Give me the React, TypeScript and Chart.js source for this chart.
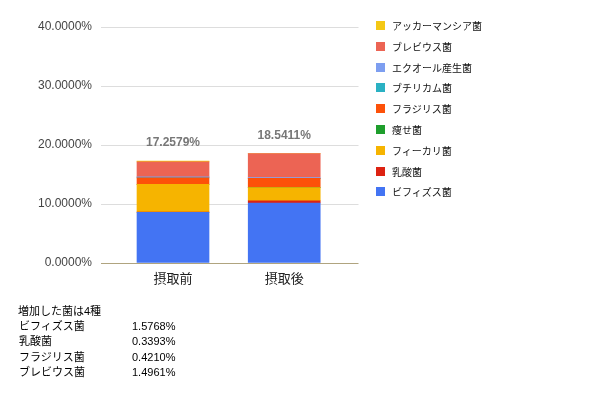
import React, { useEffect, useRef } from "react";
import { Chart, registerables } from "chart.js";

Chart.register(...registerables);

const categories = ["摂取前", "摂取後"];
const seriesNames = [
  "ビフィズス菌",
  "乳酸菌",
  "フィーカリ菌",
  "痩せ菌",
  "フラジリス菌",
  "ブチリカム菌",
  "エクオール産生菌",
  "ブレビウス菌",
  "アッカーマンシア菌",
];
const seriesColors = [
  "#4374f3",
  "#dd2212",
  "#f6b400",
  "#1e9e2c",
  "#fd5109",
  "#2ab1c3",
  "#7d9ef0",
  "#ec6454",
  "#f4c815",
];
const bifidus = [8.6, 10.1768];
const lactic = [0.03, 0.3693];
const faecali = [4.7, 2.2579];
const yase = [0.01, 0.01];
const fragilis = [1.1, 1.521];
const butyricum = [0.01, 0.01];
const equol = [0.15, 0.15];
const brevis = [2.55, 4.0461];
const akkermansia = [0.1079, 0.0];
const seriesValues = [bifidus, lactic, faecali, yase, fragilis, butyricum, equol, brevis, akkermansia];

const yTicks = [0, 10, 20, 30, 40];

const noteTitle = "増加した菌は4種";
const noteNames = ["ビフィズス菌", "乳酸菌", "フラジリス菌", "ブレビウス菌"];
const noteValues = ["1.5768%", "0.3393%", "0.4210%", "1.4961%"];

const FONT = '"Liberation Sans", "Noto Sans CJK JP", sans-serif';

export default function App() {
  const ref = useRef<HTMLCanvasElement>(null);

  useEffect(() => {
    document.body.style.margin = "0";
    const totalsPlugin = {
      id: "totals",
      afterDatasetsDraw(chart: any) {
        const ctx = chart.ctx;
        const xs = chart.scales.x;
        const ys = chart.scales.y;
        ctx.save();
        ctx.font = `bold 12px ${FONT}`;
        ctx.fillStyle = "#777777";
        ctx.textAlign = "center";
        ctx.textBaseline = "middle";
        categories.forEach((_, i) => {
          let sum = 0;
          seriesValues.forEach((s) => (sum += s[i]));
          const x = xs.getPixelForValue(i);
          const y = ys.getPixelForValue(sum);
          ctx.fillText(sum.toFixed(4) + "%", x, y - 18);
        });
        ctx.restore();
      },
    };
    const chart = new Chart(ref.current!, {
      type: "bar",
      data: {
        datasets: seriesNames.map((name, k) => ({
          label: name,
          data: seriesValues[k].map((v, i) => ({ x: i, y: v })),
          backgroundColor: seriesColors[k],
          borderWidth: 0,
          barThickness: 72,
        })),
      },
      options: {
        animation: false,
        responsive: false,
        maintainAspectRatio: false,
        layout: { padding: { top: 27, right: 241.5, left: 0, bottom: 0 } },
        plugins: { legend: { display: false }, tooltip: { enabled: false } },
        scales: {
          x: {
            type: "linear",
            stacked: true,
            offset: false,
            min: -0.6475,
            max: 1.668,
            bounds: "ticks",
            grid: { display: false, offset: false },
            border: { display: false },
            afterBuildTicks: (axis: any) => {
              axis.ticks = categories.map((_, i) => ({ value: i }));
            },
            afterDataLimits: (axis: any) => {
              axis.min = -0.6475;
              axis.max = 1.668;
            },
            afterFit: (scale: any) => {
              scale.height = 130;
            },
            ticks: {
              padding: 1,
              color: "#222222",
              font: { size: 13, family: FONT },
              callback: (v: any) => categories[v] ?? "",
              maxRotation: 0,
              autoSkip: false,
            },
          },
          y: {
            stacked: true,
            min: 0,
            max: 40,
            afterBuildTicks: (axis: any) => {
              axis.ticks = yTicks.map((v) => ({ value: v }));
            },
            afterFit: (scale: any) => {
              scale.width = 101;
            },
            grid: {
              drawTicks: false,
              color: (c: any) => (c.tick && c.tick.value === 0 ? "#b0a47f" : "#dddddd"),
              lineWidth: 1,
            },
            border: { display: false },
            ticks: {
              padding: 9,
              color: "#444444",
              font: { size: 12, family: FONT },
              callback: (v: any) => Number(v).toFixed(4) + "%",
            },
          },
        },
      },
      plugins: [totalsPlugin],
    });
    return () => chart.destroy();
  }, []);

  const legendItems = seriesNames.map((n, k) => ({ n, c: seriesColors[k] })).reverse();

  return (
    <div style={{ position: "fixed", left: 0, top: 0, width: 600, height: 393, background: "#fff", fontFamily: FONT }}>
      <canvas ref={ref} width={600} height={393} style={{ position: "absolute", left: 0, top: 0, width: 600, height: 393 }} />
      {legendItems.map((it, i) => (
        <div
          key={it.n}
          style={{
            position: "absolute",
            left: 376,
            top: 25.5 + i * 20.8 - 8,
            height: 16,
            display: "flex",
            alignItems: "center",
            fontSize: 10,
            color: "#111",
            whiteSpace: "nowrap",
          }}
        >
          <span style={{ display: "inline-block", width: 9, height: 9, background: it.c, marginRight: 7 }} />
          <span>{it.n}</span>
        </div>
      ))}
      <div style={{ position: "absolute", left: 18, top: 311 - 8, height: 16, lineHeight: "16px", fontSize: 11, color: "#000" }}>
        {noteTitle}
      </div>
      {noteNames.map((n, i) => (
        <React.Fragment key={n}>
          <div style={{ position: "absolute", left: 19, top: 326 - 8 + i * 15.4, height: 16, lineHeight: "16px", fontSize: 11, color: "#000", whiteSpace: "nowrap" }}>
            {n}
          </div>
          <div style={{ position: "absolute", left: 132, top: 326 - 8 + i * 15.4, height: 16, lineHeight: "16px", fontSize: 11, color: "#000", whiteSpace: "nowrap" }}>
            {noteValues[i]}
          </div>
        </React.Fragment>
      ))}
    </div>
  );
}
